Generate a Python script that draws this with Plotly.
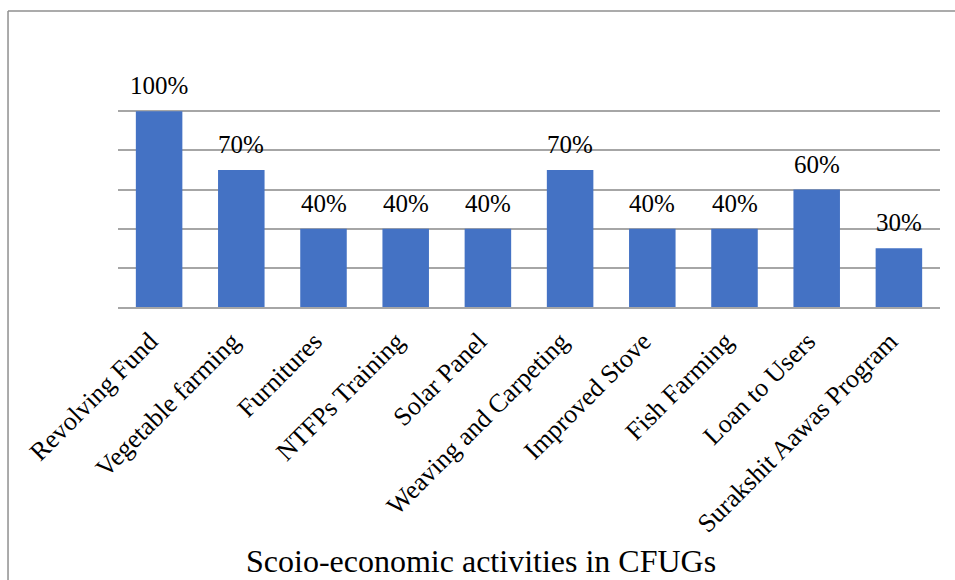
import plotly.graph_objects as go

activities = [
    "Revolving Fund", "Vegetable farming", "Furnitures", "NTFPs Training",
    "Solar Panel", "Weaving and Carpeting", "Improved Stove", "Fish Farming",
    "Loan to Users", "Surakshit Aawas Program",
]
shares = [1.0, 0.7, 0.4, 0.4, 0.4, 0.7, 0.4, 0.4, 0.6, 0.3]
share_labels = [f"{round(v * 100)}%" for v in shares]

SERIF = "Liberation Serif, Times New Roman, serif"
GRID = "#a6a6a6"

fig = go.Figure(
    go.Bar(
        x=activities,
        y=shares,
        marker=dict(color="#4472C4", line=dict(width=0)),
        hoverinfo="x+y",
    )
)

# value labels above each bar
for name, val, lab in zip(activities, shares, share_labels):
    fig.add_annotation(
        x=name, y=val, text=lab,
        xref="x", yref="y",
        xanchor="center", yanchor="bottom",
        yshift=10,
        showarrow=False,
        font=dict(family=SERIF, size=25, color="#000000"),
    )

fig.update_layout(
    width=955,
    height=580,
    margin=dict(l=118, r=15, t=72, b=273),
    paper_bgcolor="white",
    plot_bgcolor="white",
    bargap=0.434,
    showlegend=False,
    font=dict(family=SERIF, color="#000000"),
)

fig.update_xaxes(
    tickangle=-45,
    tickfont=dict(family=SERIF, size=26, color="#000000"),
    ticklabelstandoff=7,
    ticklabelshift=-9,
    showline=True,
    linecolor=GRID,
    linewidth=1.5,
    ticks="",
    showgrid=False,
)
fig.update_yaxes(
    range=[0, 1.2],
    dtick=0.2,
    showticklabels=False,
    showgrid=True,
    gridcolor=GRID,
    gridwidth=1.5,
    zeroline=False,
    showline=False,
)

# x-axis caption at the bottom
fig.add_annotation(
    text="Scoio-economic activities in CFUGs",
    xref="paper", yref="paper",
    x=0.441, y=-1.082,
    xanchor="center", yanchor="middle",
    showarrow=False,
    font=dict(family=SERIF, size=32, color="#000000"),
)

# chart frame (top and left edges)
frame = dict(color="#8f8f8f", width=1.5)
fig.add_shape(type="line", xref="paper", yref="paper",
              x0=-0.1338, x1=1.05, y0=1.2596, y1=1.2596, line=frame)
fig.add_shape(type="line", xref="paper", yref="paper",
              x0=-0.1338, x1=-0.1338, y0=1.2596, y1=-1.3, line=frame)

fig.write_html("out.html")
